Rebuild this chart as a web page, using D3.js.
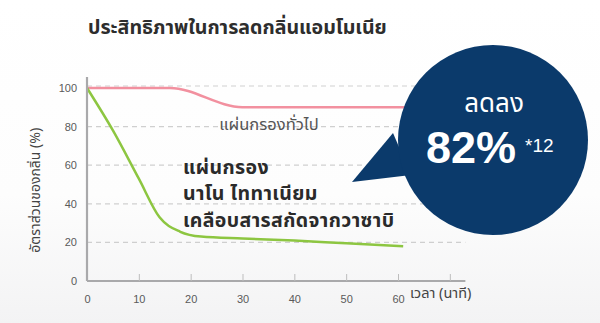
<!DOCTYPE html>
<html>
<head>
<meta charset="utf-8">
<script src="https://cdn.jsdelivr.net/npm/d3@7"></script>
<style>
  body { margin: 0; background: #fff; }
  svg { display: block; font-family: "Noto Sans", "Noto Sans Thai", "Noto Sans Thai UI", "DejaVu Sans", sans-serif; }
</style>
</head>
<body>
<div id="chart"></div>
<script>
// chart data
var yTicks = [0, 20, 40, 60, 80, 100];
var xTicks = [0, 10, 20, 30, 40, 50, 60, 70];
var xTickLabels = ["0", "10", "20", "30", "40", "50", "60", ""];

var normalTime = [0, 16, 30, 63];
var normalValue = [100, 100, 90, 90];

var wasabiTime = [0, 5, 10, 14, 18, 22, 30, 40, 50, 61];
var wasabiValue = [100, 78, 53, 33, 25.5, 23, 22, 21, 19.5, 18];

var titleText = "ประสิทธิภาพในการลดกลิ่นแอมโมเนีย";
var normalLabel = "แผ่นกรองทั่วไป";
var wasabiLabel = ["แผ่นกรอง", "นาโน ไททาเนียม", "เคลือบสารสกัดจากวาซาบิ"];
var bubbleTop = "ลดลง";
var bubbleValue = "82%";
var bubbleNote = "*12";

var svgWidth = 600;
var svgHeight = 323;

var margin = { top: 88, right: 137, bottom: 42, left: 87 };
var chartWidth = svgWidth - margin.left - margin.right;
var chartHeight = svgHeight - margin.top - margin.bottom;

var svg = d3.select("#chart")
  .append("svg")
  .attr("width", svgWidth)
  .attr("height", svgHeight);

// light grey fade at the bottom
var grad = svg.append("defs").append("linearGradient")
  .attr("id", "bg")
  .attr("x1", 0).attr("y1", 0).attr("x2", 0).attr("y2", 1);
grad.append("stop").attr("offset", "0%").attr("stop-color", "#ffffff");
grad.append("stop").attr("offset", "60%").attr("stop-color", "#fdfdfd");
grad.append("stop").attr("offset", "100%").attr("stop-color", "#f3f3f4");
svg.append("rect")
  .attr("width", svgWidth)
  .attr("height", svgHeight)
  .attr("fill", "url(#bg)");

var chartGroup = svg.append("g")
  .attr("transform", `translate(${margin.left}, ${margin.top})`);

var xScale = d3.scaleLinear().domain([0, 60]).range([0, 311]);
var yScale = d3.scaleLinear().domain([0, 100]).range([chartHeight, 0]);

// dashed grid
chartGroup.selectAll(".grid")
  .data(yTicks.filter(d => d > 0))
  .enter()
  .append("line")
  .attr("x1", 0)
  .attr("x2", xScale(73))
  .attr("y1", d => yScale(d) - (d === 100 ? 2 : 0))
  .attr("y2", d => yScale(d) - (d === 100 ? 2 : 0))
  .attr("stroke", "#cfcfcf")
  .attr("stroke-width", 1.2)
  .attr("stroke-dasharray", "5,4");

// lines
var normalData = normalTime.map((t, i) => ({ t: t, v: normalValue[i] }));
var wasabiData = wasabiTime.map((t, i) => ({ t: t, v: wasabiValue[i] }));

var line = d3.line()
  .x(d => xScale(d.t))
  .y(d => yScale(d.v))
  .curve(d3.curveMonotoneX);

chartGroup.append("path")
  .datum(normalData)
  .attr("d", line)
  .attr("fill", "none")
  .attr("stroke", "#f2909f")
  .attr("stroke-width", 2.5);

chartGroup.append("path")
  .datum(wasabiData)
  .attr("d", line)
  .attr("fill", "none")
  .attr("stroke", "#8dc641")
  .attr("stroke-width", 2.5);

// axes
var bottomAxis = d3.axisBottom(xScale)
  .tickValues(xTicks)
  .tickFormat((d, i) => xTickLabels[i])
  .tickSizeInner(-7)
  .tickSizeOuter(0)
  .tickPadding(14);

var leftAxis = d3.axisLeft(yScale)
  .tickValues(yTicks)
  .tickSize(0)
  .tickPadding(10);

var xAxis = chartGroup.append("g")
  .attr("transform", `translate(0, ${chartHeight})`)
  .call(bottomAxis);
xAxis.select(".domain").attr("d", `M0,0H${xScale(73)}`);

var yAxis = chartGroup.append("g").call(leftAxis);
yAxis.select(".domain").attr("d", `M0,${chartHeight}V-11`);

[xAxis, yAxis].forEach(function (ax) {
  ax.select(".domain").attr("stroke", "#a9a9ab").attr("stroke-width", 2.2);
  ax.selectAll(".tick line").attr("stroke", "#bdbdbd");
  ax.selectAll(".tick text")
    .attr("fill", "#5a5a5a")
    .attr("font-size", 11)
    .attr("font-family", "Liberation Sans, Arial, sans-serif");
});

// axis titles
chartGroup.append("text")
  .attr("transform", `translate(-47, ${yScale(47)}) rotate(-90)`)
  .attr("text-anchor", "middle")
  .attr("fill", "#444")
  .attr("font-size", 14)
  .text("อัตราส่วนของกลิ่น (%)");

chartGroup.append("text")
  .attr("x", xScale(62.3))
  .attr("y", chartHeight + 17)
  .attr("fill", "#444")
  .attr("font-size", 14.5)
  .text("เวลา (นาที)");

// title
svg.append("text")
  .attr("x", 88)
  .attr("y", 34)
  .attr("fill", "#2d2d2d")
  .attr("font-size", 19.6)
  .attr("font-weight", "bold")
  .text(titleText);

// line labels
chartGroup.append("text")
  .attr("x", xScale(25.5))
  .attr("y", yScale(78))
  .attr("fill", "#555")
  .attr("font-size", 16.5)
  .text(normalLabel);

chartGroup.append("text")
  .attr("x", xScale(18.5))
  .attr("y", yScale(55.5))
  .attr("fill", "#2a2a2a")
  .attr("font-size", 19.5)
  .attr("font-weight", "bold")
  .attr("letter-spacing", 0.4)
  .selectAll("tspan")
  .data(wasabiLabel)
  .enter()
  .append("tspan")
  .attr("x", xScale(18.5))
  .attr("dy", (d, i) => i === 0 ? 0 : 26.5)
  .text(d => d);

// callout bubble
var bubble = svg.append("g").attr("transform", "translate(493, 140)");
bubble.append("path")
  .attr("d", "M-100,-7 L-141,42 L-82,35 Z")
  .attr("fill", "#0b3a6b");
bubble.append("circle")
  .attr("r", 95)
  .attr("fill", "#0b3a6b");
bubble.append("text")
  .attr("x", 1)
  .attr("y", -28)
  .attr("text-anchor", "middle")
  .attr("fill", "#fff")
  .attr("font-size", 26)
  .text(bubbleTop);
bubble.append("text")
  .attr("x", -67)
  .attr("y", 23)
  .attr("fill", "#fff")
  .attr("font-size", 45)
  .attr("font-weight", "bold")
  .attr("font-family", "Liberation Sans, Arial, sans-serif")
  .text(bubbleValue);
bubble.append("text")
  .attr("x", 32)
  .attr("y", 12)
  .attr("fill", "#fff")
  .attr("font-size", 19)
  .attr("font-family", "Liberation Sans, Arial, sans-serif")
  .text(bubbleNote);
</script>
</body>
</html>
